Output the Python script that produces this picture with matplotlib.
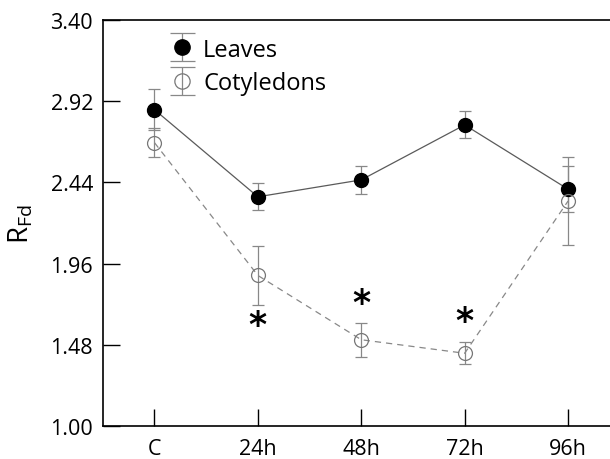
import matplotlib
matplotlib.use("Agg")
import matplotlib.pyplot as plt
import numpy as np
from matplotlib.ticker import FormatStrFormatter
from matplotlib.legend_handler import HandlerErrorbar
from matplotlib.container import ErrorbarContainer

plt.rcParams['font.family'] = ['Open Sans', 'DejaVu Sans']

categories = ["C", "24h", "48h", "72h", "96h"]
leaves = [2.87, 2.355, 2.455, 2.78, 2.40]
leaves_err = [0.12, 0.08, 0.085, 0.08, 0.135]
cotyledons = [2.675, 1.89, 1.51, 1.43, 2.33]
cotyledons_err = [0.085, 0.175, 0.10, 0.065, 0.26]
signif_idx = [1, 2, 3]
signif_y = [1.595, 1.725, 1.62]
yticks = [1.00, 1.48, 1.96, 2.44, 2.92, 3.40]

fig = plt.figure(figsize=(6.1, 4.6), dpi=100)
ax = fig.add_axes([0.1685, 0.0717, 0.8475, 0.8826])

x = list(range(len(categories)))

ax.errorbar(x, leaves, yerr=leaves_err, fmt='-o', color='#5a5a5a',
            mfc='black', mec='black', ms=10, lw=0.9,
            ecolor='#888888', elinewidth=0.9, capsize=4.5, capthick=0.9,
            zorder=3)
ax.errorbar(x, cotyledons, yerr=cotyledons_err, fmt='--o', color='#888888',
            mfc='none', mec='#777777', mew=0.9, ms=10, lw=0.9,
            dashes=(5, 4),
            ecolor='#888888', elinewidth=0.9, capsize=4.5, capthick=0.9,
            zorder=3)

# legend proxies (wider caps as in the reference legend)
h1 = ax.errorbar([np.nan], [np.nan], yerr=[0.1], fmt='o', color='black',
                 mfc='black', mec='black', ms=11,
                 ecolor='#888888', elinewidth=0.9, capsize=9, capthick=0.9,
                 label='Leaves')
h2 = ax.errorbar([np.nan], [np.nan], yerr=[0.1], fmt='o', color='#777777',
                 mfc='none', mec='#777777', mew=0.9, ms=11,
                 ecolor='#888888', elinewidth=0.9, capsize=9, capthick=0.9,
                 label='Cotyledons')

for i, yv in zip(signif_idx, signif_y):
    ax.text(i, yv, '*', ha='center', va='center', fontsize=25,
            fontweight='bold', color='black', family='DejaVu Sans')

ax.set_xlim(-0.5, 4.5)
ax.set_ylim(1.0, 3.4)
ax.set_xticks(x)
ax.set_xticklabels(categories)
ax.set_yticks(yticks)
ax.yaxis.set_major_formatter(FormatStrFormatter('%.2f'))
ax.tick_params(axis='both', direction='in', length=12, width=1.0,
               labelsize=15.5)
ax.tick_params(axis='x', pad=8.5)
ax.tick_params(axis='y', pad=7)
for s in ['left', 'bottom', 'top', 'right']:
    ax.spines[s].set_linewidth(1.2)

ax.set_ylabel(r'R$_{\mathregular{Fd}}$', fontsize=20, labelpad=11)

ax.legend(handles=[h1, h2], loc='upper left', bbox_to_anchor=(0.112, 0.980),
          frameon=False, fontsize=17, handlelength=1.0, handletextpad=0.4,
          labelspacing=0.4, borderaxespad=0.0, borderpad=0.4,
          handler_map={ErrorbarContainer: HandlerErrorbar(yerr_size=0.6)})

fig.savefig('out.png', dpi=100)
